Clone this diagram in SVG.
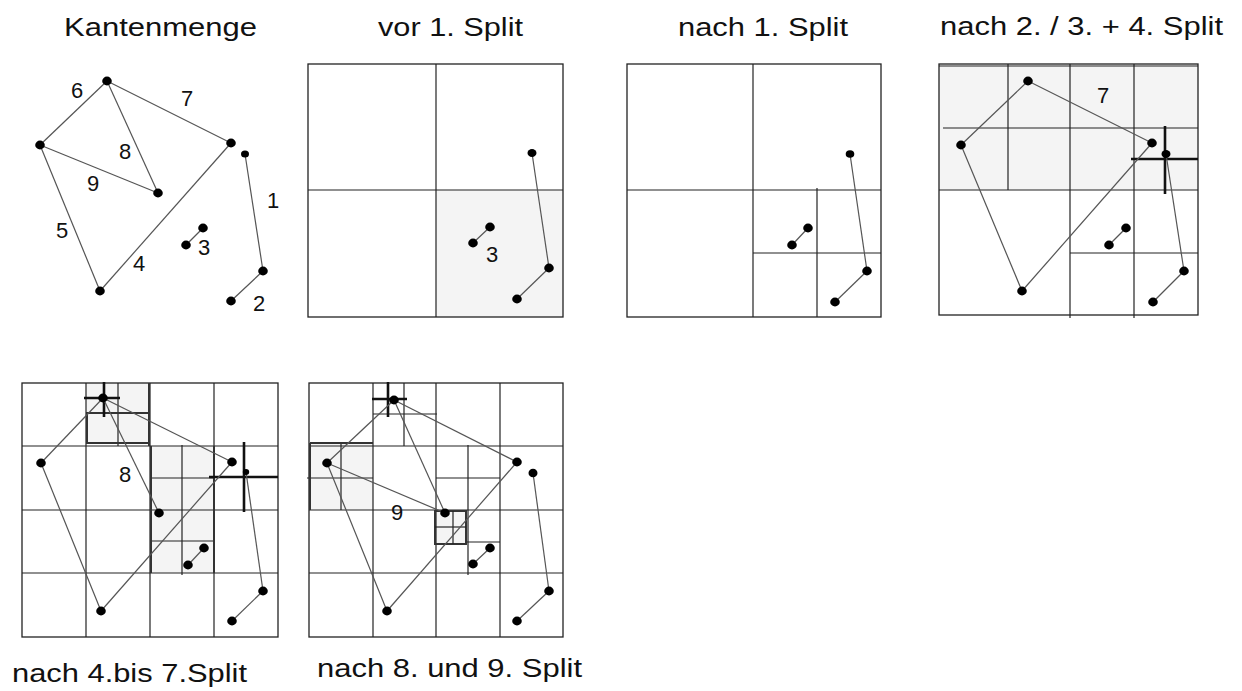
<svg xmlns="http://www.w3.org/2000/svg" width="1242" height="691" viewBox="0 0 1242 691">
<style>
.bg{fill:#fff}
.box{fill:none;stroke:#222;stroke-width:1.3}
.grid{stroke:#222;stroke-width:1.2;fill:none}
.bord{stroke:#333;stroke-width:2;fill:none}
.thick{stroke:#111;stroke-width:2.6;fill:none}
.shade{fill:#f4f4f4}
.edge{stroke:#555;stroke-width:1.2;fill:none}
.dot{fill:#000}
.title{font-family:"Liberation Sans",Arial,sans-serif;font-size:25px;fill:#111}
.lbl{font-family:"Liberation Sans",Arial,sans-serif;font-size:22px;fill:#111;text-anchor:middle}
</style>
<rect class="bg" x="0" y="0" width="1242" height="691"/>

<!-- Titles -->
<text class="title" x="64" y="36" textLength="193" lengthAdjust="spacingAndGlyphs">Kantenmenge</text>
<text class="title" x="378" y="36" textLength="145" lengthAdjust="spacingAndGlyphs">vor 1. Split</text>
<text class="title" x="678" y="36" textLength="170" lengthAdjust="spacingAndGlyphs">nach 1. Split</text>
<text class="title" x="940" y="35" textLength="283" lengthAdjust="spacingAndGlyphs">nach 2. / 3. + 4. Split</text>
<text class="title" x="12" y="682" textLength="235" lengthAdjust="spacingAndGlyphs">nach 4.bis 7.Split</text>
<text class="title" x="317" y="677" textLength="265" lengthAdjust="spacingAndGlyphs">nach 8. und 9. Split</text>

<!-- Panel 1: Kantenmenge -->
<g id="panel1">
  <g id="p1-connectors">
    <line class="edge" x1="40" y1="145" x2="107" y2="81"/>
    <line class="edge" x1="107" y1="81" x2="231" y2="143"/>
    <line class="edge" x1="107" y1="81" x2="158" y2="193"/>
    <line class="edge" x1="40" y1="145" x2="158" y2="193"/>
    <line class="edge" x1="40" y1="145" x2="100" y2="291"/>
    <line class="edge" x1="100" y1="291" x2="231" y2="143"/>
    <line class="edge" x1="203" y1="228" x2="186" y2="245"/>
    <line class="edge" x1="245" y1="154" x2="263" y2="271"/>
    <line class="edge" x1="263" y1="271" x2="231" y2="301"/>
  </g>
  <g id="p1-nA"><ellipse class="dot" cx="107" cy="81" rx="4.8" ry="4.4"/></g>
  <g id="p1-nB"><ellipse class="dot" cx="40" cy="145" rx="4.8" ry="4.4"/></g>
  <g id="p1-nC"><ellipse class="dot" cx="231" cy="143" rx="4.8" ry="4.4"/></g>
  <g id="p1-nD"><ellipse class="dot" cx="245" cy="154" rx="4" ry="3.6"/></g>
  <g id="p1-nE"><ellipse class="dot" cx="158" cy="193" rx="4.8" ry="4.4"/></g>
  <g id="p1-nF"><ellipse class="dot" cx="203" cy="228" rx="4.8" ry="4.4"/></g>
  <g id="p1-nG"><ellipse class="dot" cx="186" cy="245" rx="4.8" ry="4.4"/></g>
  <g id="p1-nH"><ellipse class="dot" cx="100" cy="291" rx="4.8" ry="4.4"/></g>
  <g id="p1-nI"><ellipse class="dot" cx="263" cy="271" rx="4.8" ry="4.4"/></g>
  <g id="p1-nJ"><ellipse class="dot" cx="231" cy="301" rx="4.8" ry="4.4"/></g>
  <text class="lbl" x="77" y="98">6</text>
  <text class="lbl" x="187" y="106">7</text>
  <text class="lbl" x="125" y="159">8</text>
  <text class="lbl" x="93" y="191">9</text>
  <text class="lbl" x="62" y="238">5</text>
  <text class="lbl" x="139" y="271">4</text>
  <text class="lbl" x="204" y="255">3</text>
  <text class="lbl" x="273" y="208">1</text>
  <text class="lbl" x="259" y="311">2</text>
</g>

<!-- Panel 2: vor 1. Split -->
<g id="panel2">
  <rect class="shade" x="436" y="190" width="127" height="127"/>
  <rect class="box" x="308" y="64" width="255" height="253"/>
  <line class="grid" x1="436" y1="64" x2="436" y2="317"/>
  <line class="grid" x1="308" y1="190" x2="563" y2="190"/>
  <g id="p2-connectors">
    <line class="edge" x1="532" y1="153" x2="549" y2="268"/>
    <line class="edge" x1="549" y1="268" x2="517" y2="299"/>
    <line class="edge" x1="490" y1="227" x2="473" y2="243"/>
  </g>
  <g id="p2-nD"><ellipse class="dot" cx="532" cy="153" rx="4.5" ry="4"/></g>
  <g id="p2-nI"><ellipse class="dot" cx="549" cy="268" rx="4.8" ry="4.4"/></g>
  <g id="p2-nJ"><ellipse class="dot" cx="517" cy="299" rx="4.8" ry="4.4"/></g>
  <g id="p2-nF"><ellipse class="dot" cx="490" cy="227" rx="4.8" ry="4.4"/></g>
  <g id="p2-nG"><ellipse class="dot" cx="473" cy="243" rx="4.8" ry="4.4"/></g>
  <text class="lbl" x="492" y="262">3</text>
</g>

<!-- Panel 3: nach 1. Split -->
<g id="panel3">
  <rect class="box" x="627" y="64" width="254" height="253"/>
  <line class="grid" x1="753" y1="64" x2="753" y2="317"/>
  <line class="grid" x1="627" y1="190" x2="881" y2="190"/>
  <line class="grid" x1="817" y1="188" x2="817" y2="317"/>
  <line class="grid" x1="753" y1="253" x2="881" y2="253"/>
  <g id="p3-connectors">
    <line class="edge" x1="850" y1="154" x2="867" y2="271"/>
    <line class="edge" x1="867" y1="271" x2="835" y2="302"/>
    <line class="edge" x1="808" y1="228" x2="792" y2="245"/>
  </g>
  <g id="p3-nD"><ellipse class="dot" cx="850" cy="154" rx="4.3" ry="3.8"/></g>
  <g id="p3-nI"><ellipse class="dot" cx="867" cy="271" rx="4.8" ry="4.4"/></g>
  <g id="p3-nJ"><ellipse class="dot" cx="835" cy="302" rx="4.8" ry="4.4"/></g>
  <g id="p3-nF"><ellipse class="dot" cx="808" cy="228" rx="4.8" ry="4.4"/></g>
  <g id="p3-nG"><ellipse class="dot" cx="792" cy="245" rx="4.8" ry="4.4"/></g>
</g>

<!-- Panel 4: nach 2. / 3. + 4. Split -->
<g id="panel4">
  <rect class="shade" x="939" y="64" width="259" height="126"/>
  <rect class="box" x="939" y="64" width="259" height="251"/>
  <line class="grid" x1="939" y1="66" x2="1198" y2="66"/>
  <line class="grid" x1="1008" y1="64" x2="1008" y2="190"/>
  <line class="grid" x1="1070" y1="64" x2="1070" y2="318"/>
  <line class="grid" x1="1134" y1="64" x2="1134" y2="318"/>
  <line class="grid" x1="939" y1="190" x2="1198" y2="190"/>
  <line class="grid" x1="943" y1="128" x2="1198" y2="128"/>
  <line class="grid" x1="1070" y1="253" x2="1198" y2="253"/>
  <line class="thick" x1="1165" y1="126" x2="1165" y2="194"/>
  <line class="thick" x1="1131" y1="159" x2="1198" y2="159"/>
  <g id="p4-connectors">
    <line class="edge" x1="961" y1="145" x2="1028" y2="81"/>
    <line class="edge" x1="1028" y1="81" x2="1152" y2="143"/>
    <line class="edge" x1="961" y1="145" x2="1022" y2="291"/>
    <line class="edge" x1="1022" y1="291" x2="1152" y2="143"/>
    <line class="edge" x1="1166" y1="154" x2="1184" y2="271"/>
    <line class="edge" x1="1184" y1="271" x2="1153" y2="302"/>
    <line class="edge" x1="1126" y1="228" x2="1109" y2="245"/>
  </g>
  <g id="p4-nA"><ellipse class="dot" cx="1028" cy="81" rx="4.8" ry="4.4"/></g>
  <g id="p4-nB"><ellipse class="dot" cx="961" cy="145" rx="4.8" ry="4.4"/></g>
  <g id="p4-nC"><ellipse class="dot" cx="1152" cy="143" rx="4.8" ry="4.4"/></g>
  <g id="p4-nD"><ellipse class="dot" cx="1166" cy="154" rx="4.5" ry="4"/></g>
  <g id="p4-nH"><ellipse class="dot" cx="1022" cy="291" rx="4.8" ry="4.4"/></g>
  <g id="p4-nI"><ellipse class="dot" cx="1184" cy="271" rx="4.8" ry="4.4"/></g>
  <g id="p4-nJ"><ellipse class="dot" cx="1153" cy="302" rx="4.8" ry="4.4"/></g>
  <g id="p4-nF"><ellipse class="dot" cx="1126" cy="228" rx="4.8" ry="4.4"/></g>
  <g id="p4-nG"><ellipse class="dot" cx="1109" cy="245" rx="4.8" ry="4.4"/></g>
  <text class="lbl" x="1103" y="103">7</text>
</g>

<!-- Panel 5: nach 4. bis 7. Split -->
<g id="panel5">
  <rect class="shade" x="86" y="383" width="64" height="60"/>
  <rect class="shade" x="150" y="446" width="64" height="127"/>
  <rect class="box" x="22" y="383" width="256" height="254"/>
  <line class="grid" x1="86" y1="383" x2="86" y2="637"/>
  <line class="grid" x1="150" y1="383" x2="150" y2="637"/>
  <line class="grid" x1="214" y1="383" x2="214" y2="637"/>
  <line class="grid" x1="22" y1="446" x2="278" y2="446"/>
  <line class="grid" x1="22" y1="510" x2="278" y2="510"/>
  <line class="grid" x1="22" y1="573" x2="278" y2="573"/>
  <line class="grid" x1="118" y1="383" x2="118" y2="446"/>
  <line class="grid" x1="87" y1="413" x2="150" y2="413"/>
  <rect class="bord" x="87" y="413" width="62" height="30"/>
  <line class="bord" x1="149" y1="383" x2="149" y2="446"/>
  <line class="thick" x1="84" y1="398" x2="120" y2="398"/>
  <line class="thick" x1="104" y1="382" x2="104" y2="417"/>
  <line class="grid" x1="182" y1="445" x2="182" y2="575"/>
  <line class="grid" x1="150" y1="478" x2="214" y2="478"/>
  <line class="grid" x1="150" y1="541" x2="214" y2="541"/>
  <line class="bord" x1="151" y1="446" x2="151" y2="573"/>
  <line class="bord" x1="214" y1="446" x2="214" y2="573"/>
  <line class="thick" x1="244" y1="442" x2="244" y2="512"/>
  <line class="thick" x1="209" y1="477" x2="278" y2="477"/>
  <g id="p5-connectors">
    <line class="edge" x1="41" y1="463" x2="103" y2="398"/>
    <line class="edge" x1="103" y1="398" x2="232" y2="462"/>
    <line class="edge" x1="103" y1="398" x2="159" y2="513"/>
    <line class="edge" x1="41" y1="463" x2="101" y2="611"/>
    <line class="edge" x1="101" y1="611" x2="232" y2="462"/>
    <line class="edge" x1="246" y1="472" x2="263" y2="591"/>
    <line class="edge" x1="263" y1="591" x2="232" y2="621"/>
    <line class="edge" x1="204" y1="548" x2="188" y2="565"/>
  </g>
  <g id="p5-nA"><ellipse class="dot" cx="103" cy="398" rx="4.8" ry="4.4"/></g>
  <g id="p5-nB"><ellipse class="dot" cx="41" cy="463" rx="4.8" ry="4.4"/></g>
  <g id="p5-nC"><ellipse class="dot" cx="232" cy="462" rx="4.8" ry="4.4"/></g>
  <g id="p5-nD"><ellipse class="dot" cx="246" cy="472" rx="3.2" ry="3"/></g>
  <g id="p5-nE"><ellipse class="dot" cx="159" cy="513" rx="4.8" ry="4.4"/></g>
  <g id="p5-nH"><ellipse class="dot" cx="101" cy="611" rx="4.8" ry="4.4"/></g>
  <g id="p5-nI"><ellipse class="dot" cx="263" cy="591" rx="4.8" ry="4.4"/></g>
  <g id="p5-nJ"><ellipse class="dot" cx="232" cy="621" rx="4.8" ry="4.4"/></g>
  <g id="p5-nF"><ellipse class="dot" cx="204" cy="548" rx="4.8" ry="4.4"/></g>
  <g id="p5-nG"><ellipse class="dot" cx="188" cy="565" rx="4.8" ry="4.4"/></g>
  <text class="lbl" x="125" y="482">8</text>
</g>

<!-- Panel 6: nach 8. und 9. Split -->
<g id="panel6">
  <rect class="shade" x="310" y="443" width="63" height="67"/>
  <rect class="shade" x="435" y="511" width="31" height="33"/>
  <rect class="box" x="309" y="383" width="254" height="254"/>
  <line class="grid" x1="373" y1="383" x2="373" y2="637"/>
  <line class="grid" x1="436" y1="383" x2="436" y2="637"/>
  <line class="grid" x1="500" y1="383" x2="500" y2="637"/>
  <line class="grid" x1="309" y1="446" x2="563" y2="446"/>
  <line class="grid" x1="309" y1="510" x2="563" y2="510"/>
  <line class="grid" x1="309" y1="573" x2="563" y2="573"/>
  <line class="grid" x1="404" y1="383" x2="404" y2="446"/>
  <line class="grid" x1="373" y1="414" x2="437" y2="414"/>
  <line class="thick" x1="372" y1="399" x2="407" y2="399"/>
  <line class="thick" x1="388" y1="382" x2="388" y2="417"/>
  <line class="grid" x1="341" y1="443" x2="341" y2="510"/>
  <line class="grid" x1="307" y1="478" x2="373" y2="478"/>
  <line class="bord" x1="310" y1="443" x2="373" y2="443"/>
  <line class="bord" x1="310" y1="443" x2="310" y2="510"/>
  <line class="grid" x1="468" y1="445" x2="468" y2="575"/>
  <line class="grid" x1="436" y1="478" x2="500" y2="478"/>
  <line class="grid" x1="466" y1="542" x2="500" y2="542"/>
  <rect class="bord" x="435" y="511" width="31" height="33"/>
  <line class="grid" x1="453" y1="511" x2="453" y2="544"/>
  <line class="grid" x1="435" y1="527" x2="466" y2="527"/>
  <g id="p6-connectors">
    <line class="edge" x1="327" y1="463" x2="394" y2="400"/>
    <line class="edge" x1="394" y1="400" x2="517" y2="462"/>
    <line class="edge" x1="394" y1="400" x2="445" y2="513"/>
    <line class="edge" x1="327" y1="463" x2="445" y2="513"/>
    <line class="edge" x1="327" y1="463" x2="387" y2="611"/>
    <line class="edge" x1="387" y1="611" x2="517" y2="462"/>
    <line class="edge" x1="533" y1="473" x2="549" y2="591"/>
    <line class="edge" x1="549" y1="591" x2="517" y2="621"/>
    <line class="edge" x1="490" y1="548" x2="473" y2="564"/>
  </g>
  <g id="p6-nA"><ellipse class="dot" cx="394" cy="400" rx="4.8" ry="4.4"/></g>
  <g id="p6-nB"><ellipse class="dot" cx="327" cy="463" rx="4.8" ry="4.4"/></g>
  <g id="p6-nC"><ellipse class="dot" cx="517" cy="462" rx="4.8" ry="4.4"/></g>
  <g id="p6-nD"><ellipse class="dot" cx="533" cy="473" rx="4.5" ry="4.3"/></g>
  <g id="p6-nE"><ellipse class="dot" cx="445" cy="513" rx="4.8" ry="4.4"/></g>
  <g id="p6-nH"><ellipse class="dot" cx="387" cy="611" rx="4.8" ry="4.4"/></g>
  <g id="p6-nI"><ellipse class="dot" cx="549" cy="591" rx="4.8" ry="4.4"/></g>
  <g id="p6-nJ"><ellipse class="dot" cx="517" cy="621" rx="4.8" ry="4.4"/></g>
  <g id="p6-nF"><ellipse class="dot" cx="490" cy="548" rx="4.8" ry="4.4"/></g>
  <g id="p6-nG"><ellipse class="dot" cx="473" cy="564" rx="4.8" ry="4.4"/></g>
  <text class="lbl" x="397" y="520">9</text>
</g>
</svg>
